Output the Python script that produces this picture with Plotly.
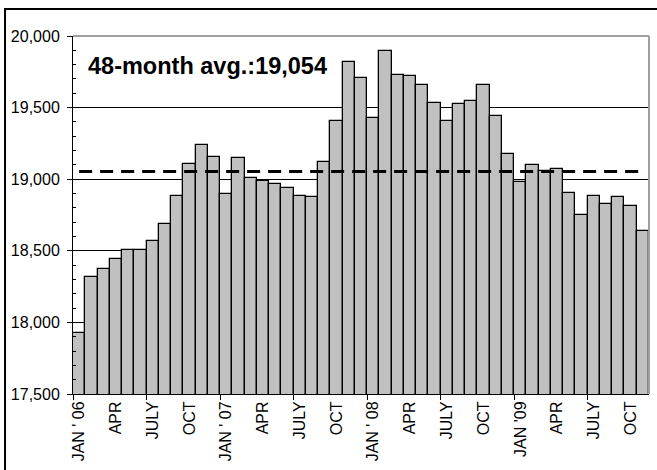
import plotly.graph_objects as go

# Monthly values, JAN 2006 .. NOV 2009 (47 months)
values = [
    17928, 18320, 18371, 18443, 18505, 18505, 18566, 18687, 18885, 19104, 19238, 19153,
    18898, 19145, 19008, 18990, 18969, 18936, 18885, 18876, 19120, 19409, 19821, 19707,
    19430, 19893, 19728, 19718, 19655, 19532, 19409, 19523, 19544, 19655, 19441, 19174,
    18978, 19101, 19059, 19069, 18906, 18750, 18883, 18825, 18874, 18813, 18638,
]
average = 19054
tick_labels = ["JAN ' 06", "APR", "JULY", "OCT",
               "JAN ' 07", "APR", "JULY", "OCT",
               "JAN ' 08", "APR", "JULY", "OCT",
               "JAN '09", "APR", "JULY", "OCT"]
label_months = list(range(0, 48, 3))          # Jan/Apr/Jul/Oct month indices
half_year_bounds = [m - 0.5 for m in range(0, 48, 6)]  # tick marks between months

months = list(range(len(values)))
FONT = "Liberation Sans, Arial, sans-serif"
TICK_SIZE = 16

fig = go.Figure()
fig.add_trace(go.Bar(
    x=months, y=values,
    marker=dict(color="#c0c0c0", line=dict(color="black", width=1.3)),
    showlegend=False, hoverinfo="skip",
))
fig.add_trace(go.Scatter(
    x=months, y=[average] * len(months), xaxis="x2", yaxis="y",
    mode="lines", line=dict(color="black", width=3, dash="13px,8px"),
    showlegend=False, hoverinfo="skip",
))

fig.update_layout(
    width=657, height=470,
    margin=dict(l=73, r=8, t=36, b=76),
    paper_bgcolor="white", plot_bgcolor="white",
    bargap=0,
    font=dict(family=FONT, size=TICK_SIZE, color="black"),
    xaxis=dict(
        range=[-0.5, 46.5], tickmode="array",
        tickvals=label_months, ticktext=tick_labels,
        tickangle=-90, ticks="", showgrid=False, zeroline=False,
        showline=True, linecolor="black", linewidth=1,
        tickfont=dict(family=FONT, size=TICK_SIZE, color="black"),
        automargin=False,
    ),
    xaxis2=dict(
        range=[-0.5, 46.5], overlaying="x", anchor="y", side="bottom",
        tickmode="array", tickvals=half_year_bounds,
        showticklabels=False, ticks="outside", ticklen=5,
        tickcolor="black", tickwidth=1, showgrid=False, zeroline=False,
        showline=False,
    ),
    yaxis=dict(
        range=[17500, 20000], dtick=500, tick0=17500, tickformat=",",
        ticks="outside", ticklen=5, tickcolor="black", tickwidth=1,
        showline=True, linecolor="black", linewidth=1,
        showgrid=True, gridcolor="black", gridwidth=1, zeroline=False,
        ticklabelstandoff=4, automargin=False,
        minor=dict(ticks="inside", dtick=100, ticklen=3, tickcolor="black",
                   showgrid=False),
        tickfont=dict(family=FONT, size=TICK_SIZE, color="black"),
    ),
    annotations=[dict(
        text="<b>48-month avg.:19,054</b>", xref="paper", yref="paper",
        x=0.022, y=0.916, xanchor="left", yanchor="middle", showarrow=False,
        font=dict(family=FONT, size=23.5, color="black"),
    )],
    shapes=[
        # plot-area frame (top and right, grey)
        dict(type="line", xref="paper", yref="paper", x0=0, x1=1, y0=1, y1=1,
             line=dict(color="#a0a0a0", width=2)),
        dict(type="line", xref="paper", yref="paper", x0=1, x1=1, y0=0, y1=1,
             line=dict(color="#a0a0a0", width=2)),
        # outer chart frame
        dict(type="rect", xref="paper", yref="paper",
             x0=-0.118, x1=1.03, y0=-0.25, y1=1.0754,
             line=dict(color="black", width=2), fillcolor="rgba(0,0,0,0)"),
    ],
)

fig.write_html(
    "out.html",
    config={"displayModeBar": False},
    post_script="document.body.style.margin='0';document.body.style.padding='0';",
)
